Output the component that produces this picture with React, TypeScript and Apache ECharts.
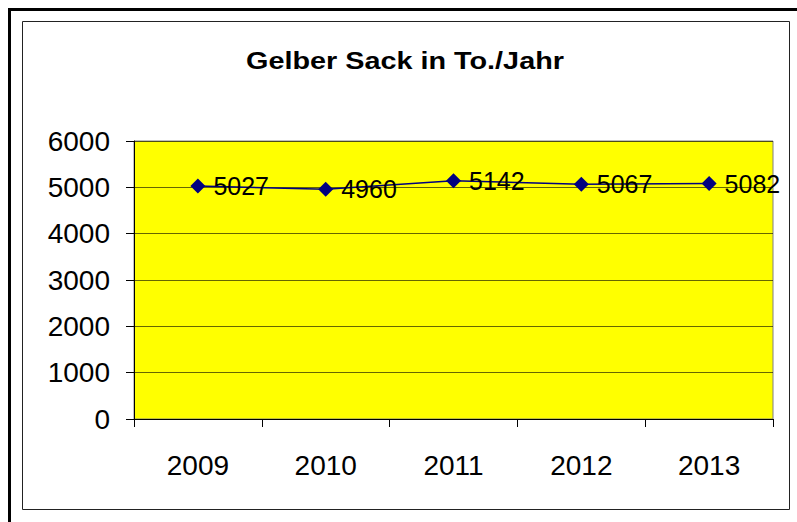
import React, { useEffect, useRef } from "react";
import * as echarts from "echarts";

const years = ["2009", "2010", "2011", "2012", "2013"];
const tonnes = [5027, 4960, 5142, 5067, 5082];
const titleText = "Gelber Sack in To./Jahr";

const FONT = "'Liberation Sans', Arial, sans-serif";

export default function App() {
  const ref = useRef<HTMLDivElement>(null);
  useEffect(() => {
    if (!ref.current) return;
    const chart = echarts.init(ref.current, null, { renderer: "svg" });
    chart.setOption({
      animation: false,
      backgroundColor: "#ffffff",
      graphic: [
        {
          type: "rect",
          shape: { x: 9.5, y: 9.5, width: 820, height: 540 },
          style: { fill: "none", stroke: "#000", lineWidth: 3 },
          silent: true,
        },
        {
          type: "rect",
          shape: { x: 22.5, y: 21.5, width: 767, height: 488 },
          style: { fill: "none", stroke: "#222", lineWidth: 1 },
          silent: true,
        },
        {
          type: "text",
          x: 405,
          y: 61,
          scaleX: 1.2,
          scaleY: 1,
          style: {
            text: titleText,
            fontFamily: FONT,
            fontSize: 24,
            fontWeight: "bold",
            fill: "#000",
            align: "center",
            verticalAlign: "middle",
          },
          silent: true,
        },
      ],
      grid: {
        left: 134,
        top: 141,
        right: 24,
        bottom: 103,
        show: true,
        backgroundColor: "#ffff00",
        borderColor: "#808080",
        borderWidth: 1,
      },
      xAxis: {
        type: "category",
        data: years,
        boundaryGap: true,
        axisLine: { lineStyle: { color: "#000", width: 1 } },
        axisTick: { show: true, length: 8, inside: false, lineStyle: { color: "#000" } },
        axisLabel: { fontFamily: FONT, fontSize: 28, color: "#000", margin: 32 },
        splitLine: { show: false },
      },
      yAxis: {
        type: "value",
        min: 0,
        max: 6000,
        interval: 1000,
        axisLine: { show: true, lineStyle: { color: "#000", width: 1 } },
        axisTick: { show: true, length: 8, inside: false, lineStyle: { color: "#000" } },
        axisLabel: {
          fontFamily: FONT,
          fontSize: 28,
          color: "#000",
          margin: 24,
          formatter: (v: number) => String(v),
        },
        splitLine: { show: true, lineStyle: { color: "#000", opacity: 0.6, width: 1 } },
      },
      series: [
        {
          type: "line",
          data: tonnes,
          symbol: "diamond",
          symbolSize: 15,
          itemStyle: { color: "#000080" },
          lineStyle: { color: "#000080", width: 1.5 },
          label: {
            show: true,
            position: "right",
            distance: 8,
            fontFamily: FONT,
            fontSize: 25,
            color: "#000",
          },
        },
      ],
    });
    return () => chart.dispose();
  }, []);
  return (
    <div
      ref={ref}
      style={{ position: "fixed", left: 0, top: 0, width: 797, height: 522 }}
    />
  );
}
